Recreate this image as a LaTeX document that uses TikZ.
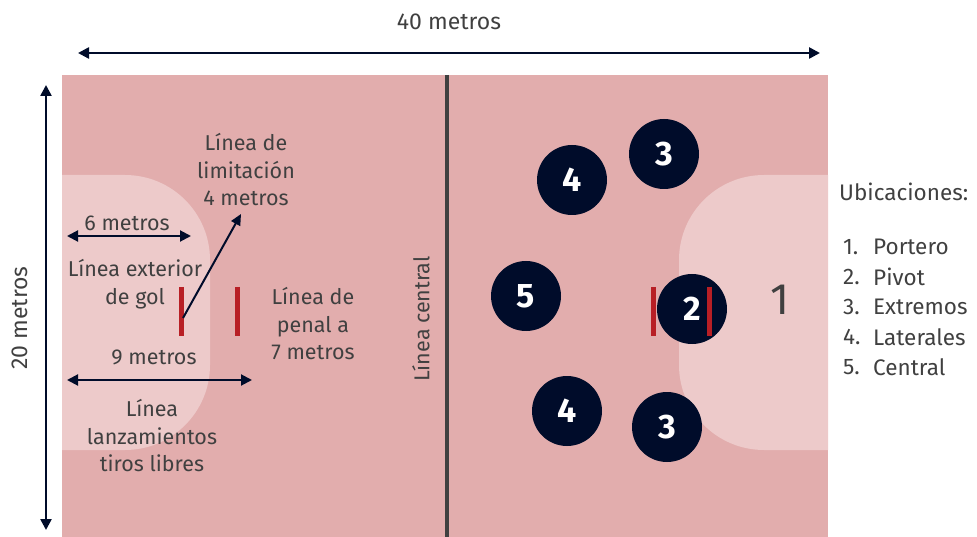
\documentclass[tikz,border=0pt]{standalone}
\usepackage{fontspec}
\setmainfont{Fira Sans}
\usepackage{xcolor}
\usetikzlibrary{arrows.meta}

\definecolor{courtpink}{HTML}{E2ADAD}
\definecolor{areapink}{HTML}{EDCACA}
\definecolor{navy}{HTML}{000C2A}
\definecolor{textgray}{HTML}{404040}
\definecolor{barred}{HTML}{B81F25}

\begin{document}
\begin{tikzpicture}[x=1pt, y=-1pt,
    note/.style={text=textgray, font=\fontsize{21.5}{27.5}\selectfont, align=center, inner sep=0pt},
    bignote/.style={note, font=\fontsize{23}{27}\selectfont},
    legend/.style={note, anchor=west, font=\fontsize{22.5}{28}\selectfont},
    player/.style={circle, fill=navy, minimum size=70pt, inner sep=0pt, text=white, font=\fontsize{34}{34}\selectfont\bfseries},
    dimarrow/.style={{Triangle[length=11pt,width=11pt]}-{Triangle[length=11pt,width=11pt]}, navy, line width=2.5pt},
    redbar/.style={barred, line width=5pt}]

    \useasboundingbox (0,0) rectangle (977,537);

    % court and goal areas
    \fill[courtpink] (62,75) rectangle (828,537);
    \begin{scope}
        \clip (62,75) rectangle (828,537);
        \fill[areapink, rounded corners=85pt] (-60,175) rectangle (210,450);
        \fill[areapink, rounded corners=85pt] (679,175) rectangle (950,450);
    \end{scope}
    \draw[textgray, line width=4pt] (447,75) -- (447,537);

    % dimensions
    \coordinate (west40) at (78,53);
    \coordinate (east40) at (820,53);
    \coordinate (top20) at (46,85);
    \coordinate (bottom20) at (46,530);
    \node[bignote] (metros40) at (449,22) {40 metros};
    \node[bignote, rotate=90] (metros20) at (20,318) {20 metros};
    \draw[dimarrow] (west40) -- (east40);
    \draw[dimarrow] (top20) -- (bottom20);

    % left half labels
    \coordinate (west6) at (67,236);
    \coordinate (east6) at (191,236);
    \coordinate (west9) at (67,380);
    \coordinate (east9) at (252,380);
    \node[note] (metros6) at (127,223) {6 metros};
    \node[note] (metros9) at (154,357) {9 metros};
    \draw[dimarrow, line width=2pt] (west6) -- (east6);
    \draw[dimarrow, line width=2pt] (west9) -- (east9);

    \node[note] (exterior) at (135,284) {Línea exterior\\de gol};
    \node[note] (limitacion) at (246,170) {Línea de\\limitación\\4 metros};
    \node[note] (penal) at (313,324) {Línea de\\penal a\\7 metros};
    \node[note] (libres) at (152,436) {Línea\\lanzamientos\\tiros libres};
    \node[note, rotate=90] (central) at (421,319) {Línea central};

    \draw[redbar] (181,287) -- (181,336);
    \draw[redbar] (237,287) -- (237,336);
    \coordinate (pointfoot) at (183,318);
    \coordinate (pointhead) at (241,214);
    \draw[-{Triangle[length=11pt,width=10pt]}, navy, line width=2pt] (pointfoot) -- (pointhead);

    % players
    \node[player] (lateralup) at (572,180) {4};
    \node[player] (extremoup) at (664,154) {3};
    \node[player] (centralpl) at (526,296) {5};
    \draw[redbar] (653,287) -- (653,336);
    \node[player] (pivot) at (692,309) {2};
    \draw[redbar] (709,287) -- (709,336);
    \node[player] (lateraldown) at (567,411) {4};
    \node[player] (extremodown) at (667,427) {3};
    \node[note, font=\fontsize{44}{44}\selectfont] (portero) at (780,300) {1};

    % legend
    \node[legend] (legtitle) at (839,192) {Ubicaciones:};
    \foreach \n/\name in {1/Portero, 2/Pivot, 3/Extremos, 4/Laterales, 5/Central} {
        \node[legend] (legnum\n) at (843,{247+30*(\n-1)}) {\n.};
        \node[legend] (leg\n) at (873,{247+30*(\n-1)}) {\name};
    }
\end{tikzpicture}
\end{document}
